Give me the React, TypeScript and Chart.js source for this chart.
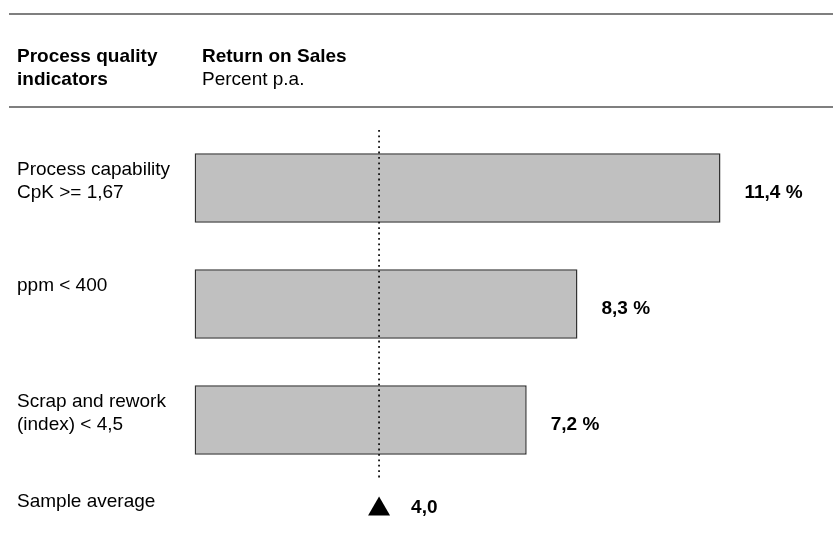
import React, { useEffect, useRef } from "react";
import { Chart, registerables } from "chart.js";

Chart.register(...registerables);

const categories: string[][] = [
  ["Process capability", "CpK >= 1,67"],
  ["ppm < 400", ""],
  ["Scrap and rework", "(index) < 4,5"],
];
const values: number[] = [11.4, 8.3, 7.2];
const valueLabels: string[] = ["11,4 %", "8,3 %", "7,2 %"];
const sampleAverage = 4.0;
const sampleAverageLabel = "4,0";
const sampleAverageTitle = "Sample average";
const headerLeft: string[] = ["Process quality", "indicators"];
const headerRightTitle = "Return on Sales";
const headerRightUnit = "Percent p.a.";

const FONT = "'Liberation Sans', Arial, Helvetica, sans-serif";
const FS = 19;

export default function App() {
  const ref = useRef<HTMLCanvasElement | null>(null);

  useEffect(() => {
    if (!ref.current) return;

    const overlay = {
      id: "overlay",
      afterDatasetsDraw(chart: any) {
        const ctx = chart.ctx;
        const xs = chart.scales.x;
        const area = chart.chartArea;
        ctx.save();
        // dotted reference line at sample average
        const ax = xs.getPixelForValue(sampleAverage);
        ctx.strokeStyle = "#111";
        ctx.lineWidth = 1.8;
        ctx.setLineDash([1.8, 3.6]);
        ctx.beginPath();
        ctx.moveTo(ax, area.top);
        ctx.lineTo(ax, area.bottom);
        ctx.stroke();
        ctx.setLineDash([]);

        // value labels
        ctx.fillStyle = "#000";
        ctx.font = `bold ${FS}px ${FONT}`;
        ctx.textAlign = "left";
        ctx.textBaseline = "middle";
        const meta = chart.getDatasetMeta(0);
        meta.data.forEach((bar: any, i: number) => {
          ctx.fillText(valueLabels[i], bar.x + 24, bar.y + 5);
        });

        // sample average row
        const ty = area.bottom + 28;
        ctx.beginPath();
        ctx.moveTo(ax - 11, ty + 9.5);
        ctx.lineTo(ax + 11, ty + 9.5);
        ctx.lineTo(ax, ty - 9.5);
        ctx.closePath();
        ctx.fill();
        ctx.font = `bold ${FS}px ${FONT}`;
        ctx.fillText(sampleAverageLabel, ax + 32, ty + 2);
        ctx.font = `${FS}px ${FONT}`;
        ctx.fillText(sampleAverageTitle, 17, ty - 4);

        // header
        ctx.strokeStyle = "#555";
        ctx.lineWidth = 1.5;
        ctx.beginPath();
        ctx.moveTo(9, 14);
        ctx.lineTo(chart.width, 14);
        ctx.moveTo(9, 107);
        ctx.lineTo(chart.width, 107);
        ctx.stroke();
        ctx.font = `bold ${FS}px ${FONT}`;
        ctx.fillText(headerLeft[0], 17, 57);
        ctx.fillText(headerLeft[1], 17, 80);
        ctx.fillText(headerRightTitle, 202, 57);
        ctx.font = `${FS}px ${FONT}`;
        ctx.fillText(headerRightUnit, 202, 80);
        ctx.restore();
      },
    };

    const chart = new Chart(ref.current, {
      type: "bar",
      data: {
        labels: categories,
        datasets: [
          {
            data: values,
            backgroundColor: "#c0c0c0",
            borderColor: "#333",
            borderWidth: 1.5,
            borderSkipped: false,
            barPercentage: 0.6,
            categoryPercentage: 1,
          },
        ],
      },
      options: {
        indexAxis: "y",
        animation: false,
        responsive: false,
        maintainAspectRatio: false,
        layout: { padding: { left: 17, right: 11, top: 130, bottom: 60 } },
        plugins: { legend: { display: false }, tooltip: { enabled: false } },
        scales: {
          x: { display: false, min: 0, max: 13.6 },
          y: {
            grid: { display: false },
            border: { display: false },
            afterFit: (scale: any) => {
              scale.width = 177.5;
            },
            ticks: {
              crossAlign: "far",
              labelOffset: -6.5,
              color: "#000",
              font: { family: FONT, size: FS, lineHeight: 1.2 },
            },
          },
        },
      },
      plugins: [overlay],
    } as any);

    return () => chart.destroy();
  }, []);

  return (
    <div style={{ position: "absolute", left: 0, top: 0, width: 833, height: 538, background: "#fff" }}>
      <canvas ref={ref} width={833} height={538} style={{ width: 833, height: 538, display: "block" }} />
    </div>
  );
}
